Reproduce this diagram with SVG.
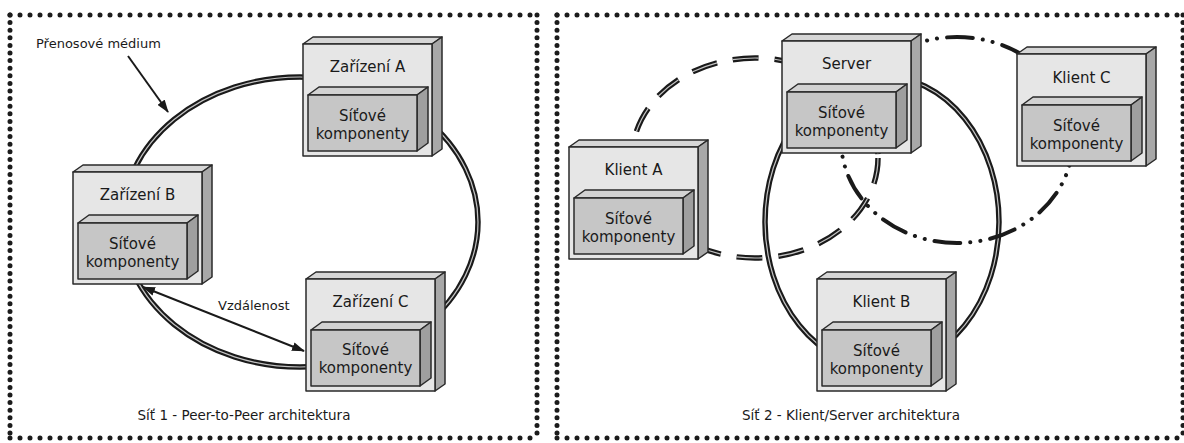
<svg xmlns="http://www.w3.org/2000/svg" xmlns:xlink="http://www.w3.org/1999/xlink" width="1184" height="443" viewBox="0 0 1184 443">
  <style>
    .frame-h { stroke: #1b1b1b; stroke-width: 5; stroke-linecap: round; stroke-dasharray: 0 10; fill: none; }
    .frame-v { stroke: #1b1b1b; stroke-width: 5; stroke-linecap: round; stroke-dasharray: 0 7.6; fill: none; }
    .cable-outer { fill: none; stroke: #1a1a1a; stroke-width: 5.5; }
    .cable-inner { fill: none; stroke: #c4c4c4; stroke-width: 1.2; }
    .dash { stroke-dasharray: 26 16; }
    .dashdot { fill: none; stroke: #1a1a1a; stroke-width: 4; stroke-linecap: round; stroke-dasharray: 26 10 0.1 10 0.1 10; }
    .pointer { fill: none; stroke: #1a1a1a; stroke-width: 2; }
    .face-front { fill: #e6e6e6; stroke: #2a2a2a; stroke-width: 1.5; stroke-linejoin: round; }
    .face-top { fill: #d6d6d6; stroke: #2a2a2a; stroke-width: 1.5; stroke-linejoin: round; }
    .face-side { fill: #a8a8a8; stroke: #2a2a2a; stroke-width: 1.5; stroke-linejoin: round; }
    .in-front { fill: #c6c6c6; stroke: #2a2a2a; stroke-width: 1.5; stroke-linejoin: round; }
    .in-top { fill: #d2d2d2; stroke: #2a2a2a; stroke-width: 1.5; stroke-linejoin: round; }
    .in-side { fill: #9f9f9f; stroke: #2a2a2a; stroke-width: 1.5; stroke-linejoin: round; }
    text { font-family: "DejaVu Sans", "Liberation Sans", sans-serif; fill: #1a1a1a; }
    .title { font-size: 15px; text-anchor: middle; }
    .label { font-size: 13px; }
    .caption { font-size: 13.5px; text-anchor: middle; }
  </style>
  <defs>
    <marker id="head" viewBox="0 0 13 9" refX="12" refY="4.5" markerWidth="13" markerHeight="9" markerUnits="userSpaceOnUse" orient="auto-start-reverse">
      <path d="M0,0 L13,4.5 L0,9 z" fill="#1a1a1a"/>
    </marker>
    <!-- device box: outer cabinet with a network-component box inside -->
    <g id="box">
      <polygon class="face-top" points="0,0 10,-7 139,-7 129,0"/>
      <polygon class="face-side" points="129,0 139,-7 139,105 129,112"/>
      <rect class="face-front" x="0" y="0" width="129" height="112"/>
      <polygon class="in-top" points="5,51 16,43 125,43 114,51"/>
      <polygon class="in-side" points="114,51 125,43 125,99 114,107"/>
      <rect class="in-front" x="5" y="51" width="109" height="56"/>
    </g>
  </defs>

  <rect x="0" y="0" width="1184" height="443" fill="#ffffff"/>

  <!-- dotted panel frames -->
  <g id="frames">
    <line class="frame-h" x1="10" y1="15" x2="537" y2="15"/>
    <line class="frame-h" x1="10" y1="438" x2="537" y2="438"/>
    <line class="frame-v" x1="10" y1="15" x2="10" y2="438"/>
    <line class="frame-v" x1="537" y1="15" x2="537" y2="438"/>
    <line class="frame-h" x1="557" y1="15" x2="1184" y2="15"/>
    <line class="frame-h" x1="557" y1="438" x2="1184" y2="438"/>
    <line class="frame-v" x1="557" y1="15" x2="557" y2="438"/>
    <line class="frame-v" x1="1183" y1="15" x2="1183" y2="438"/>
  </g>

  <!-- links between devices -->
  <g id="connectors">
    <!-- peer-to-peer ring -->
    <ellipse class="cable-outer" cx="300" cy="222" rx="178" ry="145"/>
    <ellipse class="cable-inner" cx="300" cy="222" rx="178" ry="145"/>
    <!-- server / client B ring -->
    <ellipse class="cable-outer" cx="882" cy="222" rx="117" ry="146"/>
    <ellipse class="cable-inner" cx="882" cy="222" rx="117" ry="146"/>
    <!-- server / client A dashed ring -->
    <ellipse class="cable-outer dash" cx="755" cy="158" rx="123" ry="100"/>
    <ellipse class="cable-inner dash" cx="755" cy="158" rx="123" ry="100"/>
    <!-- server / client C dash-dot ring -->
    <ellipse class="dashdot" cx="957" cy="140" rx="116" ry="103"/>
    <!-- annotation arrows -->
    <line class="pointer" x1="128" y1="56" x2="168" y2="112" marker-end="url(#head)"/>
    <line class="pointer" x1="143" y1="287" x2="304" y2="351" marker-start="url(#head)" marker-end="url(#head)"/>
  </g>

  <!-- left panel: peer-to-peer -->
  <g id="zarizeni-a">
    <use xlink:href="#box" x="303" y="44"/>
    <text class="title" x="367.5" y="72">Zařízení A</text>
    <text class="title" x="362.5" y="121">Síťové</text>
    <text class="title" x="362.5" y="139">komponenty</text>
  </g>
  <g id="zarizeni-b">
    <use xlink:href="#box" x="73" y="172"/>
    <text class="title" x="137.5" y="200">Zařízení B</text>
    <text class="title" x="132.5" y="249">Síťové</text>
    <text class="title" x="132.5" y="267">komponenty</text>
  </g>
  <g id="zarizeni-c">
    <use xlink:href="#box" x="306" y="279"/>
    <text class="title" x="370.5" y="307">Zařízení C</text>
    <text class="title" x="365.5" y="355">Síťové</text>
    <text class="title" x="365.5" y="373">komponenty</text>
  </g>

  <!-- right panel: client / server -->
  <g id="server">
    <use xlink:href="#box" x="782" y="41"/>
    <text class="title" x="846.5" y="69">Server</text>
    <text class="title" x="841.5" y="118">Síťové</text>
    <text class="title" x="841.5" y="136">komponenty</text>
  </g>
  <g id="klient-a">
    <use xlink:href="#box" x="569" y="147"/>
    <text class="title" x="633.5" y="175">Klient A</text>
    <text class="title" x="628.5" y="224">Síťové</text>
    <text class="title" x="628.5" y="242">komponenty</text>
  </g>
  <g id="klient-b">
    <use xlink:href="#box" x="817" y="279"/>
    <text class="title" x="881.5" y="307">Klient B</text>
    <text class="title" x="876.5" y="356">Síťové</text>
    <text class="title" x="876.5" y="374">komponenty</text>
  </g>
  <g id="klient-c">
    <use xlink:href="#box" x="1017" y="54"/>
    <text class="title" x="1081.5" y="83">Klient C</text>
    <text class="title" x="1076.5" y="131">Síťové</text>
    <text class="title" x="1076.5" y="149">komponenty</text>
  </g>

  <!-- labels -->
  <g id="labels">
    <text class="label" x="36" y="48">Přenosové médium</text>
    <text class="label" x="218" y="310">Vzdálenost</text>
    <text class="caption" x="244" y="420">Síť 1 - Peer-to-Peer architektura</text>
    <text class="caption" x="851" y="420">Síť 2 - Klient/Server architektura</text>
  </g>
</svg>
